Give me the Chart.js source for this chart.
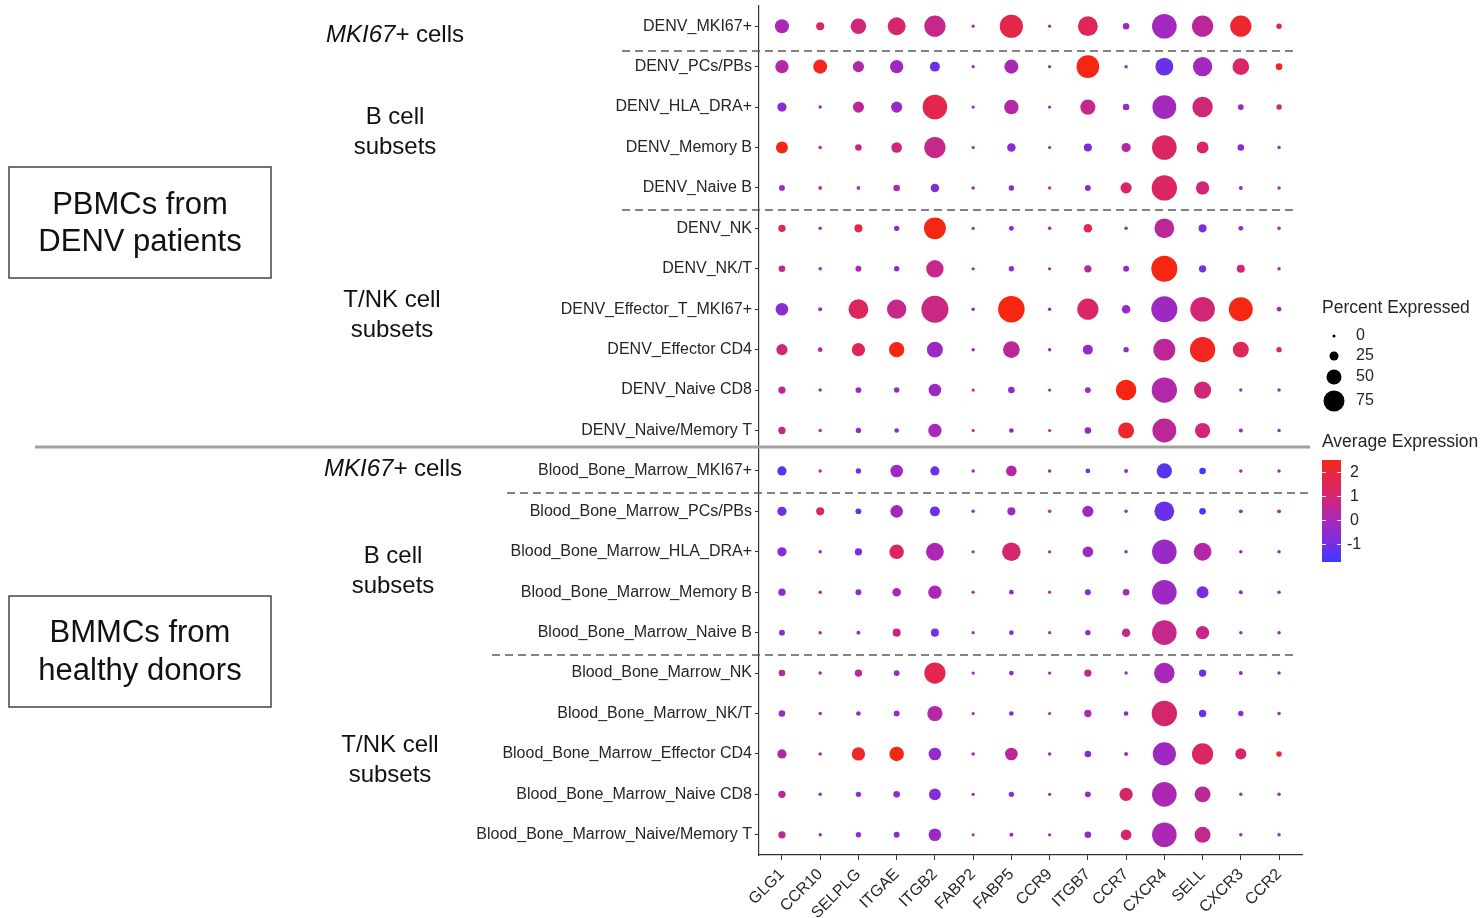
<!DOCTYPE html>
<html><head><meta charset="utf-8">
<script src="https://cdn.jsdelivr.net/npm/chart.js@4.4.0/dist/chart.umd.min.js"></script>
<style>html,body{margin:0;padding:0;background:#fff;}canvas{display:block;}</style>
</head><body>
<div style="width:1482px;height:918px;position:relative"><canvas id="c" width="1482" height="918"></canvas></div>
<script>
const genes = ["GLG1","CCR10","SELPLG","ITGAE","ITGB2","FABP2","FABP5","CCR9","ITGB7","CCR7","CXCR4","SELL","CXCR3","CCR2"];
const cellTypes = ["DENV_MKI67+","DENV_PCs/PBs","DENV_HLA_DRA+","DENV_Memory B","DENV_Naive B","DENV_NK","DENV_NK/T","DENV_Effector_T_MKI67+","DENV_Effector CD4","DENV_Naive CD8","DENV_Naive/Memory T","Blood_Bone_Marrow_MKI67+","Blood_Bone_Marrow_PCs/PBs","Blood_Bone_Marrow_HLA_DRA+","Blood_Bone_Marrow_Memory B","Blood_Bone_Marrow_Naive B","Blood_Bone_Marrow_NK","Blood_Bone_Marrow_NK/T","Blood_Bone_Marrow_Effector CD4","Blood_Bone_Marrow_Naive CD8","Blood_Bone_Marrow_Naive/Memory T"];
// percent of cells expressing (rows = cellTypes, columns = genes)
const percentExpressed = [
 [46,21,52,62,76,1,84,1,70,15,90,76,76,10],
 [43,46,34,43,29,1,46,1,82,2,62,68,57,15],
 [26,2,34,34,90,1,48,1,51,15,87,73,12,10],
 [37,2,15,32,76,1,23,1,21,26,90,37,15,2],
 [12,3,3,15,23,2,10,1,12,34,93,43,4,2],
 [18,2,21,10,79,1,8,2,23,2,70,21,8,2],
 [15,2,12,10,60,1,10,1,18,12,96,18,21,2],
 [40,4,70,68,100,2,98,2,76,23,96,90,87,7],
 [34,7,43,51,54,2,57,2,29,10,79,93,54,10],
 [18,2,12,10,40,1,15,1,12,73,93,59,2,2],
 [18,2,10,7,43,1,7,1,15,54,87,51,4,2],
 [26,2,10,40,26,2,32,2,7,4,51,15,2,2],
 [26,21,12,40,29,2,21,2,34,2,70,15,4,4],
 [26,2,18,48,62,1,65,1,32,2,90,62,2,2],
 [18,2,12,23,43,1,7,1,12,15,90,37,4,2],
 [12,2,4,21,21,1,7,1,10,23,90,43,2,2],
 [15,2,18,12,76,1,7,1,18,2,73,18,4,2],
 [15,2,7,12,51,1,7,1,18,7,93,18,10,2],
 [26,2,43,48,40,2,40,2,15,4,84,76,34,10],
 [18,2,10,15,37,1,10,1,12,43,90,54,2,2],
 [18,2,10,12,40,1,4,1,15,32,90,54,2,2]
];
// scaled average expression (rows = cellTypes, columns = genes)
const averageExpression = [
 [0.05,1.3,0.9,1.1,0.65,-0.2,1.8,-0.2,1.45,-0.3,-0.15,0.45,2.15,1.25],
 [0.25,2.35,0.2,-0.2,-1.15,-0.2,0.1,-0.2,2.5,-0.2,-1.15,-0.15,1.2,2.35],
 [-0.6,-0.2,0.45,-0.3,1.7,-0.2,0.25,-0.2,0.65,-0.4,-0.1,0.9,-0.4,1.1],
 [2.5,0.2,0.8,0.9,0.65,-0.2,-0.6,-0.2,-1.0,0.25,1.25,1.2,-0.6,-0.2],
 [-0.4,0.2,-0.2,0.2,-0.7,-0.2,-0.6,0.9,-0.7,1.2,1.3,0.9,-0.2,0.1],
 [1.7,0.2,1.8,-0.7,2.5,-0.2,-0.7,-0.2,1.7,-0.2,0.45,-0.7,-0.4,-0.2],
 [0.45,-0.2,0.1,-0.4,0.65,-0.2,-0.4,-0.2,0.45,-0.2,2.5,-0.9,0.95,-0.2],
 [-0.6,-0.2,1.35,0.65,0.75,-0.2,2.5,-0.2,1.2,-0.4,-0.2,0.95,2.5,-0.3],
 [0.9,0.45,1.45,2.5,-0.25,-0.2,0.45,-0.2,-0.4,-0.4,0.45,2.35,1.45,1.8],
 [0.45,-0.2,-0.2,-0.4,-0.2,1.8,-0.4,-0.2,-0.4,2.5,0.2,0.9,-0.2,-0.2],
 [0.65,0.35,-0.2,-0.85,0.0,0.9,-0.4,1.0,-0.4,2.15,0.45,0.95,-0.2,-0.2],
 [-1.4,0.2,-1.0,-0.2,-1.1,-0.2,0.25,-0.2,-1.0,-0.4,-1.4,-1.7,-0.2,-0.2],
 [-1.1,1.2,-1.1,-0.3,-1.1,-0.2,-0.3,0.9,-0.2,-0.4,-1.15,-1.7,-0.2,0.55],
 [-0.6,-0.2,-0.9,1.3,0.1,-0.2,1.0,-0.2,-0.2,-0.2,-0.3,0.2,-0.4,-0.2],
 [-0.6,0.2,-0.6,0.1,0.0,-0.2,-0.6,0.9,-0.6,-0.2,-0.2,-0.95,-0.4,-0.2],
 [-0.6,0.45,-0.6,0.8,-0.9,-0.2,-0.6,0.45,-0.4,0.65,0.65,0.65,-0.2,-0.2],
 [0.35,-0.2,0.45,-0.3,1.7,-0.2,-0.6,-0.2,0.55,-0.2,0.0,-1.15,-0.2,-0.2],
 [-0.2,-0.2,-0.4,-0.3,0.25,-0.2,-0.6,0.45,0.2,-0.4,1.1,-1.1,-0.4,-0.2],
 [0.25,-0.2,2.2,2.5,-0.4,-0.2,0.45,-0.2,-0.9,-0.2,-0.2,1.25,1.1,2.15],
 [0.35,-0.2,-0.4,-0.4,-0.7,-0.2,-0.6,-0.2,-0.6,1.1,0.1,0.45,-0.2,-0.2],
 [0.45,-0.2,-0.4,-0.6,-0.3,-0.2,-0.2,-0.2,-0.4,1.1,0.1,0.65,-0.2,-0.2]
];
const sizeLegendValues = [0,25,50,75];
const colorLegendTicks = [2,1,0,-1];
const colorRange = [-1.75, 2.5];

const FONT = '"Liberation Sans", Arial, Helvetica, sans-serif';
const TEXT = '#262626';
// colour ramp stops (value, r, g, b) sampled from the colour bar
const RAMP = [[-1.75,58,58,255],[-1,118,45,228],[0,168,40,185],[1,212,38,112],[2,235,38,60],[2.5,245,38,18]];
function colorFor(v){
 v=Math.max(colorRange[0],Math.min(colorRange[1],v));
 for(let k=0;k<RAMP.length-1;k++){const a=RAMP[k],b=RAMP[k+1];
  if(v<=b[0]){const t=(v-a[0])/(b[0]-a[0]);return 'rgb('+[1,2,3].map(i=>Math.round(a[i]+(b[i]-a[i])*t)).join(',')+')';}}
 const z=RAMP[RAMP.length-1];return 'rgb('+z[1]+','+z[2]+','+z[3]+')';
}
function radiusFor(p){return 1.5+0.12*p;}

const points=[];
cellTypes.forEach((ct,i)=>genes.forEach((g,j)=>points.push({x:j,y:i,r:radiusFor(percentExpressed[i][j]),avg:averageExpression[i][j]})));

function centeredText(c,text,x,y){c.textAlign='center';c.fillText(text,x,y);}
function mkiLabel(c,x,y){
 c.font='italic 24px '+FONT;const w1=c.measureText('MKI67+').width;
 c.font='24px '+FONT;const w2=c.measureText(' cells').width;
 const x0=x-(w1+w2)/2;c.textAlign='left';
 c.font='italic 24px '+FONT;c.fillText('MKI67+',x0,y);
 c.font='24px '+FONT;c.fillText(' cells',x0+w1,y);
}

const annot={id:'annot',afterDraw(chart){
 const c=chart.ctx;c.save();
 c.strokeStyle='#5a5a5a';c.lineWidth=1.3;c.setLineDash([8,5]);
 [[51,622,1295],[210,622,1295],[493,507,1310],[655,492,1295]].forEach(d=>{c.beginPath();c.moveTo(d[1],d[0]);c.lineTo(d[2],d[0]);c.stroke();});
 c.setLineDash([]);
 c.strokeStyle='#a0a0a0';c.lineWidth=3;c.beginPath();c.moveTo(35,447);c.lineTo(1310,447);c.stroke();
 c.fillStyle='#111';c.textBaseline='middle';
 mkiLabel(c,395,35);
 c.font='24px '+FONT;
 centeredText(c,'B cell',395,117);centeredText(c,'subsets',395,147);
 centeredText(c,'T/NK cell',392,300);centeredText(c,'subsets',392,330);
 mkiLabel(c,393,469);
 c.font='24px '+FONT;
 centeredText(c,'B cell',393,556);centeredText(c,'subsets',393,586);
 centeredText(c,'T/NK cell',390,745);centeredText(c,'subsets',390,775);
 c.strokeStyle='#444';c.lineWidth=1.5;
 c.strokeRect(9,167,262,111);c.strokeRect(9,596,262,111);
 c.font='31px '+FONT;
 centeredText(c,'PBMCs from',140,205);centeredText(c,'DENV patients',140,242);
 centeredText(c,'BMMCs from',140,633);centeredText(c,'healthy donors',140,671);
 // size legend
 c.fillStyle=TEXT;
 c.font='17.5px '+FONT;c.textAlign='left';
 c.fillText('Percent Expressed',1322,308);
 const ly=[336,356,377,401];
 c.font='16px '+FONT;
 sizeLegendValues.forEach((p,k)=>{c.fillStyle='#000';c.beginPath();c.arc(1334,ly[k],radiusFor(p),0,Math.PI*2);c.fill();c.fillStyle=TEXT;c.fillText(String(p),1356,ly[k]);});
 // colour legend
 c.font='17.5px '+FONT;c.fillText('Average Expression',1322,442);
 const top=460,bot=562,x0=1322,w=19;
 const vy=v=>top+(colorRange[1]-v)/(colorRange[1]-colorRange[0])*(bot-top);
 for(let y=top;y<bot;y++){c.fillStyle=colorFor(colorRange[1]-(y+0.5-top)/(bot-top)*(colorRange[1]-colorRange[0]));c.fillRect(x0,y,w,1);}
 c.strokeStyle='rgba(255,255,255,0.9)';c.lineWidth=1;
 c.font='16px '+FONT;
 colorLegendTicks.forEach(v=>{const y=Math.round(vy(v))+0.5;c.beginPath();c.moveTo(x0,y);c.lineTo(x0+4,y);c.moveTo(x0+w-4,y);c.lineTo(x0+w,y);c.stroke();c.fillStyle=TEXT;c.fillText(String(v),v<0?1347:1350,y);});
 c.restore();
}};

new Chart(document.getElementById('c').getContext('2d'),{
 type:'bubble',
 data:{datasets:[{data:points,backgroundColor:ctx=>colorFor(ctx.raw.avg),borderWidth:0,hoverRadius:0,hoverBorderWidth:0,clip:false}]},
 options:{responsive:false,animation:false,events:[],
  layout:{autoPadding:false,padding:{left:0,right:180,top:6,bottom:0}},
  plugins:{legend:{display:false},tooltip:{enabled:false}},
  scales:{
   x:{type:'linear',position:'bottom',min:-0.6,max:13.6,
    afterBuildTicks:s=>{s.ticks=genes.map((g,i)=>({value:i}));},
    ticks:{callback:v=>genes[v],autoSkip:false,maxRotation:45,minRotation:45,font:{family:FONT,size:16},color:TEXT,padding:5},
    grid:{drawOnChartArea:false,drawTicks:true,tickLength:5,color:'#333',lineWidth:1},
    border:{display:true,color:'#333',width:1.2},
    afterFit:s=>{s.height=63;s.paddingLeft=0;s.paddingRight=0;}},
   y:{type:'linear',position:'left',reverse:true,min:-0.5,max:20.5,
    afterBuildTicks:s=>{s.ticks=cellTypes.map((g,i)=>({value:i}));},
    ticks:{callback:v=>cellTypes[v],autoSkip:false,font:{family:FONT,size:16},color:TEXT,padding:3},
    grid:{drawOnChartArea:false,drawTicks:true,tickLength:4,color:'#333',lineWidth:1},
    border:{display:true,color:'#333',width:1.2},
    afterFit:s=>{s.width=759;s.paddingTop=0;s.paddingBottom=0;}}
  }},
 plugins:[annot]
});
</script>
</body></html>
